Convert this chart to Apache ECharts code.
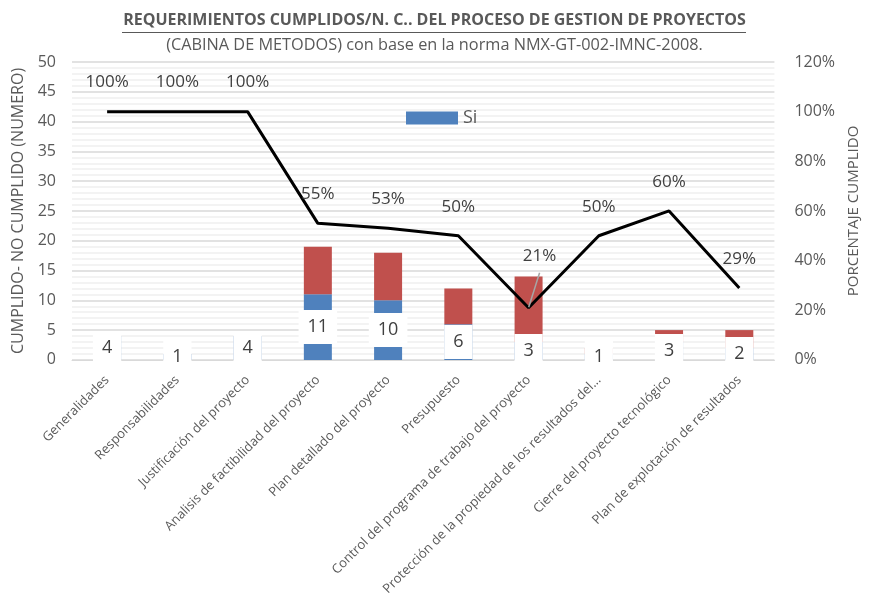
<!DOCTYPE html>
<html>
<head>
<meta charset="utf-8">
<script src="https://cdn.jsdelivr.net/npm/echarts@6/dist/echarts.min.js"></script>
<style>
  html, body { margin: 0; padding: 0; background: #fff; }
  #chart { width: 869px; height: 598px; }
</style>
</head>
<body>
<div id="chart"></div>
<script>
// Requirement categories of the project-management process
const categories = [
  'Generalidades',
  'Responsabilidades',
  'Justificación del proyecto',
  'Analisis de factibilidad del proyecto',
  'Plan detallado del proyecto',
  'Presupuesto',
  'Control del programa de trabajo del proyecto',
  'Protección de la propiedad de los resultados del...',
  'Cierre del proyecto tecnológico',
  'Plan de explotación de resultados'
];
// Requirements met (Si) and not met (No), as counts
const siValues = [4, 1, 4, 11, 10, 6, 3, 1, 3, 2];
const noValues = [0, 0, 0, 8, 8, 6, 11, 1, 2, 3];
// Percentage met per category
const pctValues = [100, 100, 100, 55, 53, 50, 21, 50, 60, 29];
// Axis ranges
const countAxis = { min: 0, max: 50, interval: 5 };
const pctAxis = { min: 0, max: 120, interval: 20 };

const FONT = "'Open Sans', sans-serif";
const chart = echarts.init(document.getElementById('chart'));

// The lowest point gets its label lifted aside with a leader line
const pctData = pctValues.map((v, i) => {
  if (i === 6) {
    return {
      value: v,
      label: { offset: [11, -23] },
      labelLine: { show: true, lineStyle: { color: '#a6a6a6', width: 1.5 } }
    };
  }
  return v;
});

chart.setOption({
  animation: false,
  textStyle: { fontFamily: FONT },
  graphic: [
    {
      type: 'text', left: 'center', top: 12,
      style: {
        text: 'REQUERIMIENTOS CUMPLIDOS/N. C.. DEL PROCESO DE GESTION DE PROYECTOS',
        font: 'bold 16px ' + FONT, fill: '#595959'
      }
    },
    {
      type: 'line', shape: { x1: 122, y1: 32.5, x2: 746, y2: 32.5 },
      style: { stroke: '#595959', lineWidth: 1.2 }
    },
    {
      type: 'text', left: 'center', top: 37,
      style: {
        text: '(CABINA DE METODOS) con base en la norma NMX-GT-002-IMNC-2008.',
        font: '16.3px ' + FONT, fill: '#595959'
      }
    }
  ],
  legend: {
    data: ['Si'],
    left: 401, top: 104,
    itemWidth: 52, itemHeight: 13, itemGap: 4,
    icon: 'rect',
    textStyle: { fontSize: 18, color: '#595959', fontFamily: FONT }
  },
  grid: { left: 72, right: 83, top: 62, bottom: 238 },
  xAxis: {
    type: 'category',
    data: categories,
    axisTick: { show: false },
    axisLine: { lineStyle: { color: '#d9d9d9' } },
    axisLabel: {
      rotate: 45, interval: 0, color: '#595959', fontSize: 13, margin: 18,
      fontFamily: FONT
    }
  },
  yAxis: [
    {
      type: 'value', ...countAxis,
      name: 'CUMPLIDO- NO CUMPLIDO (NUMERO)',
      nameLocation: 'middle', nameRotate: 90, nameGap: 46,
      nameTextStyle: { fontSize: 16, color: '#595959', fontFamily: FONT },
      axisLabel: { color: '#595959', fontSize: 16, margin: 16, fontFamily: FONT },
      axisLine: { show: false }, axisTick: { show: false },
      splitLine: { lineStyle: { color: '#d9d9d9', width: 1.5 } },
      minorTick: { show: false, splitNumber: 5 },
      minorSplitLine: { show: true, lineStyle: { color: '#f0f0f0', width: 1.5 } }
    },
    {
      type: 'value', ...pctAxis,
      name: 'PORCENTAJE CUMPLIDO',
      nameLocation: 'middle', nameRotate: 90, nameGap: 70,
      nameTextStyle: { fontSize: 15, color: '#595959', fontFamily: FONT },
      axisLabel: { color: '#595959', fontSize: 16, margin: 20, formatter: '{value}%', fontFamily: FONT },
      axisLine: { show: false }, axisTick: { show: false },
      splitLine: { show: false }
    }
  ],
  series: [
    {
      name: 'Si', type: 'bar', stack: 'total', barWidth: 28,
      data: siValues,
      itemStyle: { color: '#4f81bd' },
      label: {
        show: true, position: 'inside', color: '#404040', fontSize: 18,
        backgroundColor: '#ffffff', padding: [8, 9], fontFamily: FONT
      },
      z: 2
    },
    {
      name: 'No', type: 'bar', stack: 'total', barWidth: 28,
      data: noValues,
      itemStyle: { color: '#c0504d' },
      z: 2
    },
    {
      name: 'Porcentaje', type: 'line', yAxisIndex: 1,
      data: pctData,
      symbol: 'circle', symbolSize: 1, showSymbol: true,
      itemStyle: { color: 'rgba(0,0,0,0)' },
      lineStyle: { color: '#000000', width: 3 },
      label: {
        show: true, position: 'top', distance: 20, formatter: '{c}%',
        color: '#404040', fontSize: 17, fontFamily: FONT
      },
      z: 5
    }
  ]
});
</script>
</body>
</html>
